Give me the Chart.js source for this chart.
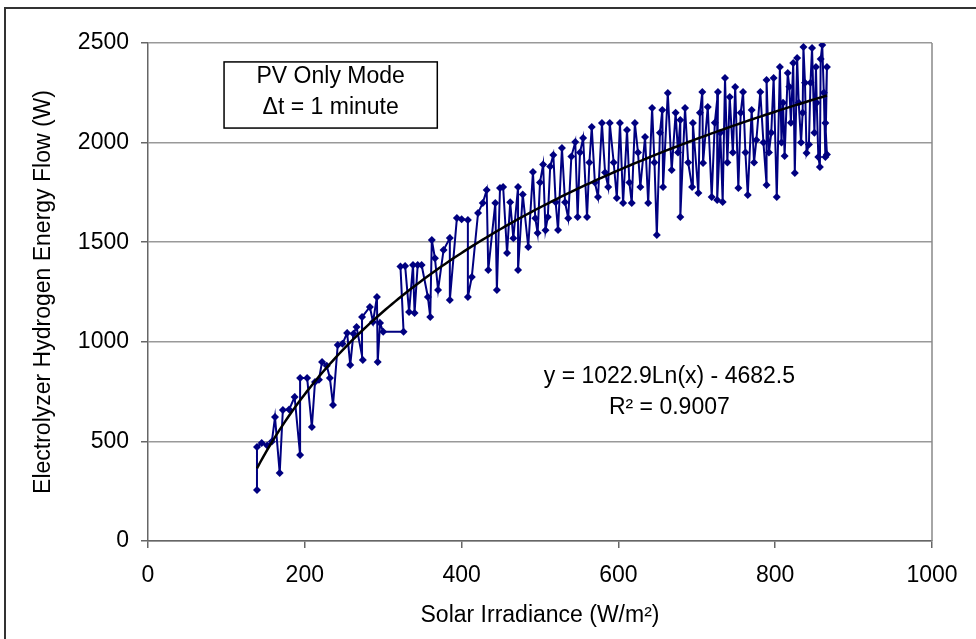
<!DOCTYPE html>
<html>
<head>
<meta charset="utf-8">
<script src="https://cdn.jsdelivr.net/npm/chart.js@4/dist/chart.umd.min.js"></script>
<style>
  html, body { margin: 0; padding: 0; background: #fff; }
  #wrap { width: 976px; height: 639px; position: relative; }
</style>
</head>
<body>
<div id="wrap"><canvas id="c" width="976" height="639"></canvas></div>
<script>
// 太阳辐照度 (W/m2)，按时间顺序
const irradiance = [
  139, 139, 145, 152, 158, 162, 168, 172, 180, 187,
  194, 194, 203, 209, 213, 218, 222, 228, 232, 236,
  242, 248, 254, 258, 262, 266, 274, 273, 283, 287,
  292, 293, 296, 300, 326, 322, 328, 333, 338, 340,
  344, 349, 357, 360, 362, 366, 370, 377, 385, 385,
  394, 400, 408, 408, 413, 421, 427, 432, 434,
  443, 445, 449, 453, 458, 462, 466, 472, 472, 478,
  485, 491, 494, 497, 500, 504, 507, 510, 513, 517,
  520, 523, 528, 532, 536, 540, 545, 548, 551, 555,
  560, 563, 566, 570, 574, 579, 583, 587, 589, 594,
  598, 602, 606, 611, 614, 617, 621, 625, 628, 634,
  638, 643, 646, 649, 653, 656, 657, 663, 668, 673,
  676, 679, 679, 685, 689, 694, 695, 702, 704, 707,
  708, 714, 719, 723, 727, 726, 730, 733, 736, 739,
  742, 746, 749, 753, 756, 759, 762, 765, 770, 773,
  776, 781, 785, 789, 789, 792, 795, 798, 802, 806,
  808, 810, 812, 816, 818, 820, 823, 825, 828, 830,
  833, 835, 836, 838, 840, 843, 845, 847, 850, 852,
  853, 855, 857, 858, 860, 862, 864, 866, 864, 866
];

// 电解槽氢能流 (W)
const h2Flow = [
  256, 472, 492, 480, 500, 622, 341, 658, 660, 723,
  432, 818, 818, 572, 798, 810, 899, 880, 818, 683,
  984, 990, 1044, 884, 1040, 1074, 909, 1124, 1175, 1100,
  1225, 899, 1094, 1050, 1050, 1378, 1380, 1150, 1385, 1145,
  1385, 1385, 1225, 1124, 1511, 1420, 1260, 1461, 1521, 1210,
  1621, 1615, 1611, 1225, 1325, 1647, 1697, 1762, 1360,
  1697, 1260, 1772, 1777, 1446, 1700, 1520, 1777, 1360, 1740,
  1476, 1852, 1620, 1546, 1800, 1890, 1560, 1627, 1880, 1938,
  1700, 1561, 1973, 1700, 1620, 1930, 2003, 1627, 1950, 2023,
  1627, 1900, 2078, 1800, 1727, 2098, 1850, 1777, 2098, 1900,
  1722, 2098, 1697, 2063, 1800, 1697, 2098, 1950, 1777, 2028,
  1697, 2174, 1900, 1536, 2050, 2164, 1777, 2249, 1862, 2150,
  1950, 2113, 1627, 2174, 1900, 1777, 2098, 1747, 2150, 2254,
  1898, 2179, 1727, 2100, 2254, 1712, 2050, 1702, 2324, 1900,
  2229, 1950, 2279, 1772, 2150, 2254, 1950, 1737, 2164, 1900,
  2013, 2254, 2000, 1787, 2314, 1950, 2050, 2324, 1727, 2380,
  2000, 2200, 1933, 2349, 2280, 2100, 2400, 1847, 2425, 2200,
  2000, 2150, 2480, 2300, 1948, 1990, 2300, 2475, 2050, 2380,
  2200, 1928, 1878, 2420, 2490, 2250, 1928, 2380, 2098, 1940
];

// 对数趋势线 y = a*ln(x) + b
const trendCoef = [1022.9, -4682.5];
const trendRange = [139, 866];

const xTicks = [0, 200, 400, 600, 800, 1000];
const yTicks = [0, 500, 1000, 1500, 2000, 2500];

const FONT = "'Liberation Sans', Arial, sans-serif";
const NAVY = '#000080';

const points = irradiance.map((x, i) => ({ x: x, y: h2Flow[i] }));

const trend = [];
for (let x = trendRange[0]; x <= trendRange[1]; x += 4) {
  trend.push({ x: x, y: trendCoef[0] * Math.log(x) + trendCoef[1] });
}
trend.push({ x: trendRange[1], y: trendCoef[0] * Math.log(trendRange[1]) + trendCoef[1] });

// 外框、右边框和注释文字
const decorPlugin = {
  id: 'decor',
  beforeDraw(chart) {
    const ctx = chart.ctx;
    ctx.save();
    ctx.fillStyle = '#fff';
    ctx.fillRect(0, 0, chart.width, chart.height);
    ctx.strokeStyle = '#333';
    ctx.lineWidth = 2;
    ctx.strokeRect(5, 8, chart.width + 20, chart.height + 20);
    ctx.restore();
  },
  afterDraw(chart) {
    const ctx = chart.ctx;
    const xs = chart.scales.x, ys = chart.scales.y;
    const a = chart.chartArea;
    ctx.save();
    // 右边框
    ctx.strokeStyle = '#888';
    ctx.lineWidth = 1.5;
    ctx.beginPath();
    ctx.moveTo(a.right, a.top);
    ctx.lineTo(a.right, a.bottom);
    ctx.stroke();

    // 模式说明框
    const bx1 = xs.getPixelForValue(97), bx2 = xs.getPixelForValue(369);
    const by1 = ys.getPixelForValue(2405), by2 = ys.getPixelForValue(2073);
    ctx.fillStyle = '#fff';
    ctx.fillRect(bx1, by1, bx2 - bx1, by2 - by1);
    ctx.strokeStyle = '#000';
    ctx.lineWidth = 1.5;
    ctx.strokeRect(bx1, by1, bx2 - bx1, by2 - by1);
    ctx.fillStyle = '#000';
    ctx.font = '23px ' + FONT;
    ctx.textAlign = 'center';
    ctx.textBaseline = 'middle';
    const cx = (bx1 + bx2) / 2;
    ctx.fillText('PV Only Mode', cx, ys.getPixelForValue(2330));
    ctx.fillText('\u0394t = 1 minute', cx, ys.getPixelForValue(2175));

    // 回归方程
    const ex = xs.getPixelForValue(665);
    ctx.fillText('y = 1022.9Ln(x) - 4682.5', ex, ys.getPixelForValue(823));
    ctx.fillText('R\u00B2 = 0.9007', ex, ys.getPixelForValue(668));
    ctx.restore();
  }
};

new Chart(document.getElementById('c'), {
  type: 'scatter',
  data: {
    datasets: [
      {
        label: 'PV Only Mode',
        data: points,
        showLine: true,
        borderColor: NAVY,
        backgroundColor: NAVY,
        borderWidth: 2,
        pointStyle: 'rectRot',
        pointRadius: 4,
        pointBorderWidth: 0,
        order: 2
      },
      {
        label: 'Log trend',
        data: trend,
        showLine: true,
        borderColor: '#000',
        borderWidth: 2.5,
        pointRadius: 0,
        order: 1
      }
    ]
  },
  options: {
    responsive: false,
    animation: false,
    layout: { padding: { top: 43, right: 44, left: 0, bottom: 0 } },
    plugins: {
      legend: { display: false },
      tooltip: { enabled: false }
    },
    scales: {
      x: {
        type: 'linear',
        min: 0,
        max: 1000,
        afterBuildTicks: s => { s.ticks = xTicks.map(v => ({ value: v })); },
        afterFit: s => { s.height = 98; },
        grid: {
          drawOnChartArea: false,
          drawTicks: true,
          tickLength: 7,
          color: '#666',
          lineWidth: 1.5
        },
        border: { color: '#666', width: 1.5 },
        ticks: {
          color: '#000',
          padding: 14,
          callback: v => String(v),
          font: { family: FONT, size: 23 }
        },
        title: {
          display: true,
          text: 'Solar Irradiance (W/m\u00B2)',
          color: '#000',
          font: { family: FONT, size: 23 },
          padding: { top: 0, bottom: 10 }
        }
      },
      y: {
        type: 'linear',
        min: 0,
        max: 2500,
        afterBuildTicks: s => { s.ticks = yTicks.map(v => ({ value: v })); },
        afterFit: s => { s.width = 148; },
        grid: {
          color: '#999',
          lineWidth: 1.5,
          tickLength: 7,
          tickColor: '#666'
        },
        border: { color: '#666', width: 1.5 },
        ticks: {
          color: '#000',
          padding: 12,
          callback: v => String(v),
          font: { family: FONT, size: 23 }
        },
        title: {
          display: true,
          text: 'Electrolyzer Hydrogen Energy Flow (W)',
          color: '#000',
          font: { family: FONT, size: 23 },
          padding: { top: 30, bottom: 0 }
        }
      }
    }
  },
  plugins: [decorPlugin]
});
</script>
</body>
</html>
